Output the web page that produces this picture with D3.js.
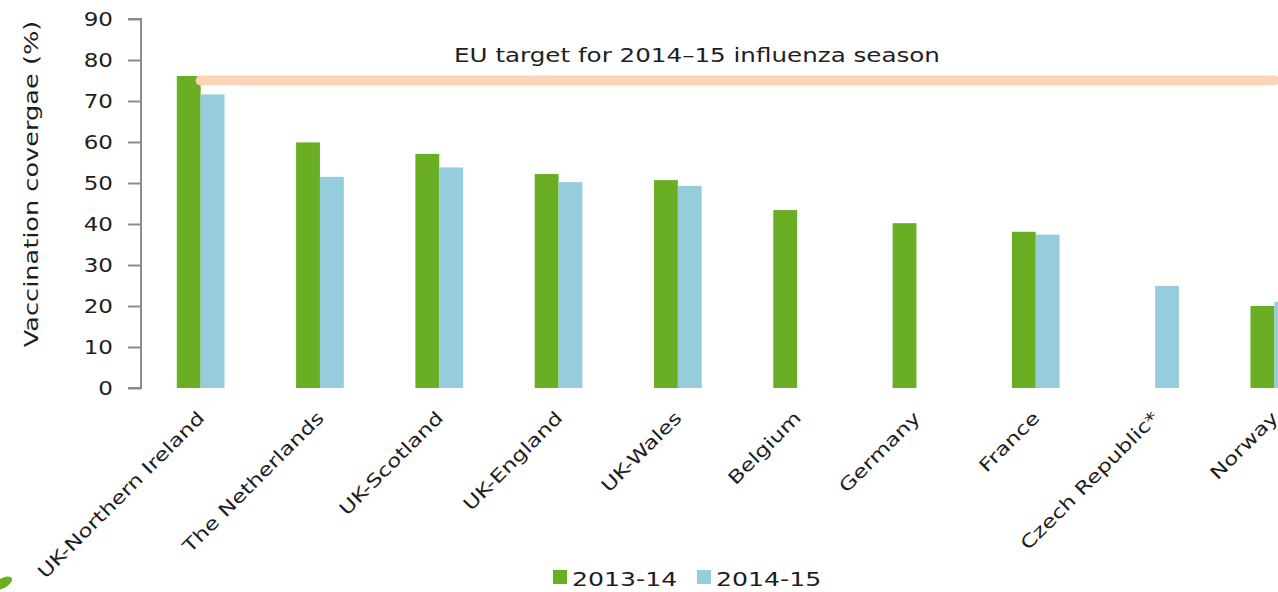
<!DOCTYPE html>
<html>
<head>
<meta charset="utf-8">
<script src="https://cdnjs.cloudflare.com/ajax/libs/d3/7.8.5/d3.min.js"></script>
<style>
  body { margin: 0; background: #fff; }
  svg { display: block; }
  text { font-family: "DejaVu Sans", Verdana, sans-serif; fill: #1e1e1e; }
</style>
</head>
<body>
<div id="chart"></div>
<script>
// Vaccination coverage chart

const countries = ["UK-Northern Ireland", "The Netherlands", "UK-Scotland", "UK-England", "UK-Wales",
  "Belgium", "Germany", "France", "Czech Republic*", "Norway"];
const seasons = ["2013-14", "2014-15"];
const cov_2013 = [76.1, 59.9, 57.1, 52.2, 50.7, 43.4, 40.2, 38.1, null, 20.0];
const cov_2014 = [71.6, 51.5, 53.8, 50.2, 49.3, null, null, 37.4, 24.9, 21.0];
const yTicks = [0, 10, 20, 30, 40, 50, 60, 70, 80, 90];
const euTarget = 75;
const targetLabel = "EU target for 2014\u201315 influenza season";

let width = 1278, height = 592;
let color = d3.scaleOrdinal().domain(seasons).range(["#6aae23", "#95cddc"]);

// the original type is a wide Verdana-ish face, so stretch DejaVu a little
function wide(tr, s) {
    return tr + " scale(" + s + ",1)";
}

let svg = d3.select("#chart").append("svg")
    .attr("width", width).attr("height", height);

// plot runs past the right edge, like the cropped original
let x = d3.scaleBand().domain(countries).range([141, 1334]).paddingInner(0.6).paddingOuter(0.3);
let xSub = d3.scaleBand().domain(seasons).range([0, x.bandwidth()]);
let y = d3.scaleLinear().domain([0, 90]).range([388, 19]);

// y axis
let yAxis = svg.append("g")
    .attr("transform", "translate(141,0)")
    .call(d3.axisLeft(y).tickValues(yTicks).tickSize(13).tickPadding(14));
yAxis.select(".domain").attr("stroke", "#8c8c8c").attr("stroke-width", 2)
    .attr("d", "M-13," + y(90) + "H0V" + y(0) + "H-13");
yAxis.selectAll(".tick line").attr("stroke", "#8c8c8c").attr("stroke-width", 2);
yAxis.selectAll(".tick text")
    .attr("x", 0)
    .attr("transform", wide("translate(-28,0)", 1.15))
    .style("font-size", "20px").attr("fill", "#1e1e1e");

svg.append("text")
    .attr("transform", wide("translate(38,184) rotate(-90)", 1.28))
    .attr("text-anchor", "middle")
    .style("font-size", "20px")
    .text("Vaccination covergae (%)");

// bars
let rows = countries.map((c, i) => ({country: c, vals: [cov_2013[i], cov_2014[i]]}));
let groups = svg.append("g").selectAll("g")
    .data(rows).enter().append("g")
    .attr("transform", d => "translate(" + x(d.country) + ",0)");

groups.selectAll("rect")
    .data(d => seasons.map((s, j) => ({season: s, v: d.vals[j]})).filter(e => e.v != null))
    .enter().append("rect")
    .attr("x", d => xSub(d.season))
    .attr("width", xSub.bandwidth())
    .attr("y", d => y(d.v))
    .attr("height", d => y(0) - y(d.v))
    .attr("fill", d => color(d.season));

// EU target line
let first = countries[0], last = countries[countries.length - 1];
svg.append("line")
    .attr("x1", x(first) + x.bandwidth() / 2)
    .attr("x2", x(last) + x.bandwidth() / 2)
    .attr("y1", y(euTarget)).attr("y2", y(euTarget))
    .attr("stroke", "#fcd3b4").attr("stroke-width", 10)
    .attr("stroke-linecap", "round");

svg.append("text")
    .attr("transform", wide("translate(697," + (y(euTarget) - 19) + ")", 1.23))
    .attr("text-anchor", "middle")
    .style("font-size", "20px")
    .text(targetLabel);

// category labels
svg.append("g").selectAll("text")
    .data(countries).enter().append("text")
    .attr("transform", d => wide("translate(" + (x(d) + x.bandwidth() / 2 + 5) + ",419) rotate(-45)", 1.28))
    .attr("text-anchor", "end")
    .style("font-size", "18px")
    .text(d => d);

// legend
let legend = svg.append("g").attr("transform", "translate(553,570)");
let legendItems = legend.selectAll("g")
    .data(seasons).enter().append("g")
    .attr("transform", (d, i) => "translate(" + (i * 144) + ",0)");
legendItems.append("rect")
    .attr("width", 14).attr("height", 14)
    .attr("fill", d => color(d));
legendItems.append("text")
    .attr("transform", wide("translate(19,16)", 1.26))
    .style("font-size", "20px")
    .text(d => d);

// bit of the logo leaf at the lower left
svg.append("ellipse")
    .attr("cx", 3).attr("cy", 583).attr("rx", 10).attr("ry", 5)
    .attr("transform", "rotate(-30,3,583)")
    .attr("fill", "#6aae23");
</script>
</body>
</html>
